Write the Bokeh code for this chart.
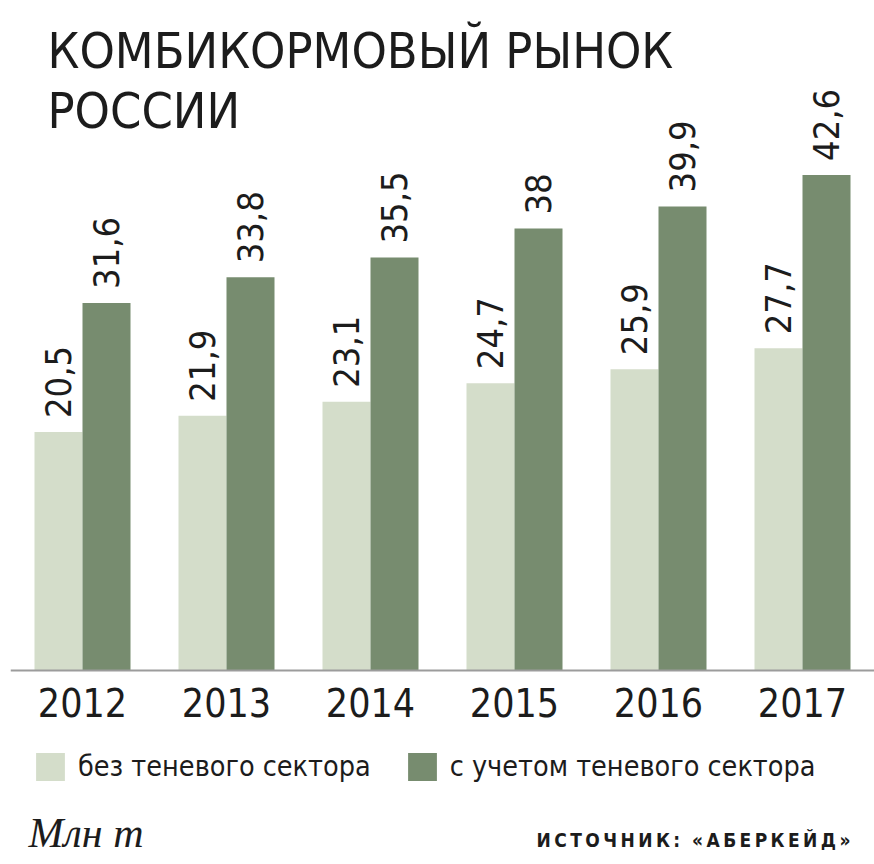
from bokeh.plotting import figure
from bokeh.models import (ColumnDataSource, FactorRange, Range1d, LabelSet, Label,
                          Legend, LegendItem, Span)
from bokeh.core.properties import value
from bokeh.transform import dodge
from bokeh.embed import file_html
from bokeh.resources import INLINE

# ---- data ----
years = ["2012", "2013", "2014", "2015", "2016", "2017"]
without_shadow = [20.5, 21.9, 23.1, 24.7, 25.9, 27.7]
with_shadow = [31.6, 33.8, 35.5, 38.0, 39.9, 42.6]
without_labels = ["20,5", "21,9", "23,1", "24,7", "25,9", "27,7"]
with_labels = ["31,6", "33,8", "35,5", "38", "39,9", "42,6"]
series_names = ["без теневого сектора", "с учетом теневого сектора"]
title_lines = ["КОМБИКОРМОВЫЙ РЫНОК", "РОССИИ"]
unit_text = "Млн т"
source_text = "\u2009".join("ИСТОЧНИК:") + "\u00a0\u00a0" + "\u2009".join("«АБЕРКЕЙД»")

LIGHT = "#d4ddca"
DARK = "#778c6f"
TEXT = "#1c1c1c"
NARROW = "'DejaVu Sans Condensed', Roboto"

src = ColumnDataSource(dict(year=years, a=without_shadow, b=with_shadow,
                            la=without_labels, lb=with_labels, zero=[0] * len(years)))

p = figure(width=874, height=864, x_range=FactorRange(*years),
           y_range=Range1d(-16.68, 57.6), toolbar_location=None, output_backend="svg",
           min_border_left=10, min_border_right=0, min_border_top=0,
           min_border_bottom=0, x_axis_location=None, y_axis_location=None,
           outline_line_color=None, background_fill_color="white",
           border_fill_color="white")

r1 = p.vbar(x=dodge("year", -1/6, range=p.x_range), top="a", width=1/3, source=src,
            fill_color=LIGHT, line_color=None)
r2 = p.vbar(x=dodge("year", 1/6, range=p.x_range), top="b", width=1/3, source=src,
            fill_color=DARK, line_color=None)

p.xgrid.visible = False
p.ygrid.visible = False

p.add_layout(Span(location=0, dimension="width", line_color="#9c9c9c", line_width=2))

# category labels (years)
p.add_layout(LabelSet(x="year", y="zero", text="year", source=src, y_offset=-32,
                      text_align="center", text_baseline="middle",
                      text_font=value(NARROW), text_font_size=value("39px"),
                      text_color=TEXT))

for field, lab, off in (("a", "la", -1/6), ("b", "lb", 1/6)):
    p.add_layout(LabelSet(x=dodge("year", off, range=p.x_range), y=field, text=lab,
                          source=src, angle=90, angle_units="deg", y_offset=14,
                          text_align="left", text_baseline="middle",
                          text_font=value(NARROW), text_font_size=value("36px"),
                          text_color=TEXT))

# title
for i, line in enumerate(title_lines):
    p.add_layout(Label(x=37, y=814 - 60 * i, x_units="screen", y_units="screen",
                       text=line, text_font=NARROW, text_font_size="50px",
                       text_color=TEXT, text_baseline="middle"))

legend = Legend(items=[LegendItem(label=series_names[0], renderers=[r1]),
                       LegendItem(label=series_names[1], renderers=[r2])],
                orientation="horizontal", location=(22, 80), padding=0, margin=0,
                spacing=33, label_standoff=10, glyph_width=36, glyph_height=35,
                label_height=35, label_text_font=NARROW, label_text_font_size="28.5px",
                label_text_color=TEXT, border_line_color=None,
                background_fill_alpha=0)
p.add_layout(legend)

p.add_layout(Label(x=18, y=32, x_units="screen", y_units="screen", text=unit_text,
                   text_font="Liberation Serif", text_font_style="italic",
                   text_font_size="42px", text_color=TEXT, text_baseline="middle"))
p.add_layout(Label(x=840, y=25, x_units="screen", y_units="screen", text=source_text,
                   text_font=NARROW, text_font_style="bold", text_font_size="19px",
                   text_color=TEXT, text_align="right", text_baseline="middle"))

open("out.html", "w").write(file_html(p, INLINE))
